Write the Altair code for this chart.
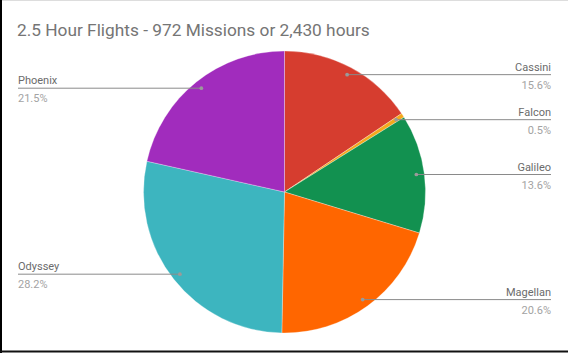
import altair as alt
import numpy as np
import pandas as pd

names = ["Cassini", "Falcon", "Galileo", "Magellan", "Odyssey", "Phoenix"]
pcts = [15.6, 0.5, 13.6, 20.6, 28.2, 21.5]
colors = ["#D63D2F", "#F4A81D", "#129150", "#FF6600", "#3DB5BF", "#A12CBD"]
title_text = "2.5 Hour Flights - 972 Missions or 2,430 hours"

W, H = 568, 353
CX, CY, R = 284.5, 192, 141
R_DOT = 133
X_RIGHT, X_LEFT = 551, 18

vals = np.array(pcts, dtype=float)
ends = np.cumsum(vals) / vals.sum() * 2 * np.pi
starts = ends - vals / vals.sum() * 2 * np.pi
mids = (starts + ends) / 2
dot_x = CX + R_DOT * np.sin(mids)
dot_y = CY - R_DOT * np.cos(mids)
right = mids < np.pi

df = pd.DataFrame({
    "name": names,
    "pct": pcts,
    "idx": list(range(len(names))),
    "dx": dot_x,
    "dy": dot_y,
    "ex": np.where(right, X_RIGHT, X_LEFT),
    "side": np.where(right, "right", "left"),
    "pct_label": [f"{p:.1f}%" for p in pcts],
})

color_scale = alt.Scale(domain=names, range=colors)
base = alt.Chart(df)

pie = base.mark_arc(radius=R, stroke="white", strokeWidth=0.3).encode(
    theta=alt.Theta("pct:Q", stack=True),
    order=alt.Order("idx:Q"),
    color=alt.Color("name:N", scale=color_scale, legend=None),
    x=alt.value(CX),
    y=alt.value(CY),
)

xs = alt.X("dx:Q", scale=None, axis=None)
ys = alt.Y("dy:Q", scale=None, axis=None)

lines = base.mark_rule(color="#8a8a8a", strokeWidth=1).encode(
    x=xs, x2="ex:Q", y=ys
)
dots = base.mark_circle(size=14, color="#9a9a9a", opacity=1).encode(x=xs, y=ys)

font = "Roboto"
def labels(side, align):
    sub = base.transform_filter(alt.datum.side == side)
    name_t = sub.mark_text(align=align, baseline="alphabetic", dy=-4,
                           font=font, fontSize=11, color="#6b6b6b").encode(
        x=alt.X("ex:Q", scale=None, axis=None), y=ys, text="name:N")
    pct_t = sub.mark_text(align=align, baseline="alphabetic", dy=14,
                          font=font, fontSize=11, color="#a3a3a3").encode(
        x=alt.X("ex:Q", scale=None, axis=None), y=ys, text="pct_label:N")
    return name_t + pct_t

title = alt.Chart(pd.DataFrame({"t": [title_text]})).mark_text(
    align="left", baseline="alphabetic", font=font, fontSize=17.3, color="#757575"
).encode(x=alt.value(17), y=alt.value(36), text="t:N")

frame_left = alt.Chart(pd.DataFrame({"a": [0]})).mark_rule(color="#000", strokeWidth=2).encode(
    x=alt.value(1), y=alt.value(0), y2=alt.value(H))
frame_bottom = alt.Chart(pd.DataFrame({"a": [0]})).mark_rule(color="#111", strokeWidth=2).encode(
    y=alt.value(351.5), x=alt.value(0), x2=alt.value(W))

chart = alt.layer(
    pie, lines, dots, labels("right", "right"), labels("left", "left"), title,
    frame_left, frame_bottom
).properties(
    width=W, height=H, padding=0, autosize=alt.AutoSizeParams(type="none")
).configure_view(stroke=None).configure(background="white")

chart.save("out.html", embed_options={"renderer": "svg", "actions": False})
